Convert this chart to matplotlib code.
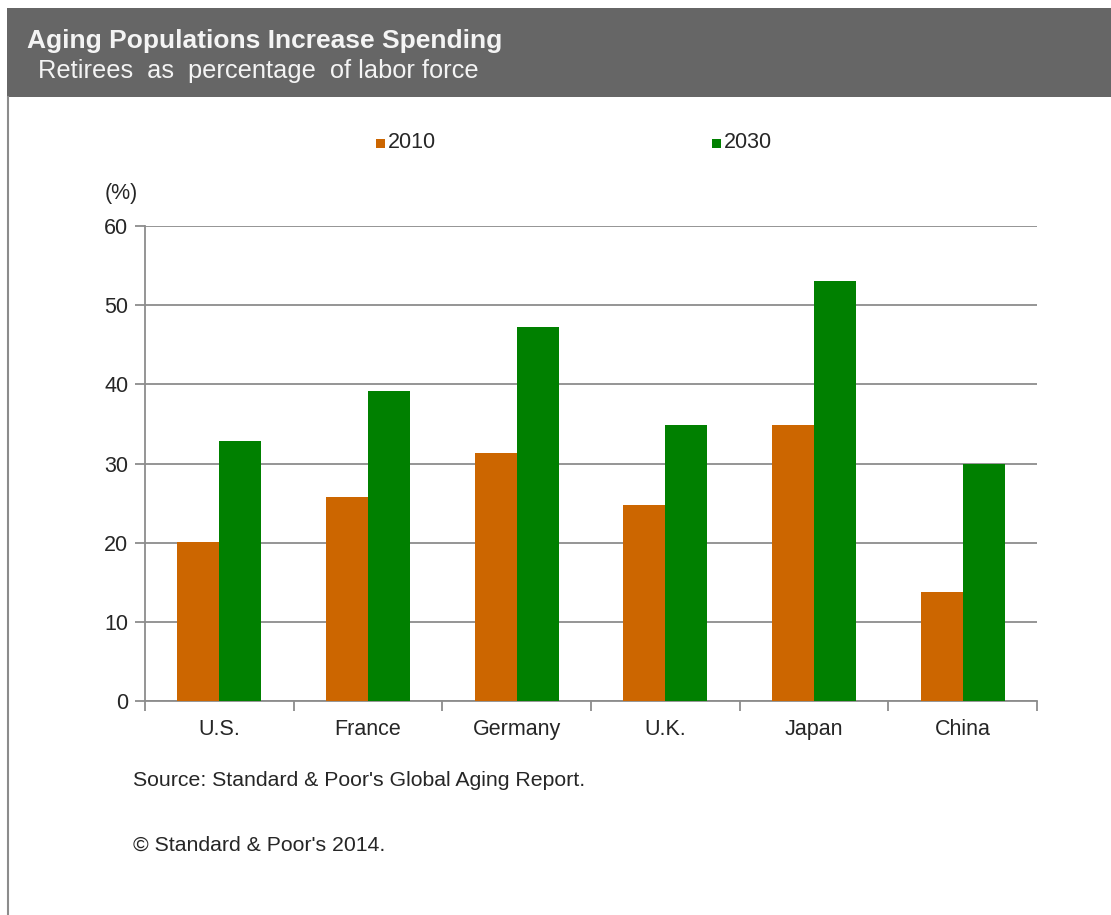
import matplotlib
matplotlib.use("Agg")
import matplotlib.pyplot as plt
from matplotlib.patches import Rectangle
from matplotlib.lines import Line2D
import numpy as np

plt.rcParams['font.family'] = ['Liberation Sans', 'DejaVu Sans']

# data
countries = ["U.S.", "France", "Germany", "U.K.", "Japan", "China"]
pct_2010 = [20.1, 25.8, 31.3, 24.8, 34.9, 13.8]
pct_2030 = [32.8, 39.2, 47.2, 34.9, 53.0, 29.9]
series_names = ["2010", "2030"]
colors = ["#cc6600", "#008000"]

W, H = 1111, 915
fig = plt.figure(figsize=(W / 100, H / 100), dpi=100)
fig.patch.set_facecolor("white")

def fx(px):
    return px / W

def fy(py):
    return 1 - py / H

txt = "#262626"

# header band and panel border
fig.patches.append(Rectangle((fx(7), fy(97)), fx(W - 7), (97 - 8) / H,
                             transform=fig.transFigure, facecolor="#666666",
                             edgecolor="none", zorder=0))
fig.lines.append(Line2D([fx(7.5), fx(7.5)], [fy(97), 0], transform=fig.transFigure,
                        color="#8c8c8c", lw=1.5))
fig.text(fx(27), fy(41), "Aging Populations Increase Spending", color="#f4f4f4",
         fontsize=19, fontweight="bold", va="center", ha="left")
fig.text(fx(38), fy(71), "Retirees  as  percentage  of labor force", color="#f4f4f4",
         fontsize=18.3, va="center", ha="left")

# axes: x 145..1037, y 226..701
ax = fig.add_axes([fx(145), fy(701), (1037 - 145) / W, (701 - 226) / H])
x = np.arange(len(countries))
bw = 0.283
ax.bar(x - bw / 2, pct_2010, bw, color=colors[0], zorder=3, label=series_names[0])
ax.bar(x + bw / 2, pct_2030, bw, color=colors[1], zorder=3, label=series_names[1])

ax.set_xlim(-0.5, len(countries) - 0.5)
ax.set_ylim(0, 60)
ax.set_yticks(range(0, 61, 10))
ax.grid(axis="y", color="#8c8c8c", lw=1.3, zorder=0)
ax.set_xticks(x)
ax.set_xticklabels(countries)
ax.set_xticks(np.arange(-0.5, len(countries)), minor=True)
ax.tick_params(axis="x", which="major", length=0, pad=13, labelsize=15.5, colors=txt)
ax.tick_params(axis="x", which="minor", length=7, width=1.3, color="#8c8c8c", direction="out")
ax.tick_params(axis="y", length=7, width=1.3, color="#8c8c8c", pad=5, labelsize=15.5,
               labelcolor=txt)
for s in ["top", "right"]:
    ax.spines[s].set_visible(False)
for s in ["left", "bottom"]:
    ax.spines[s].set_color("#8c8c8c")
    ax.spines[s].set_linewidth(1.3)

fig.text(fx(105), fy(193), "(%)", fontsize=15.5, color=txt, va="center", ha="left")

# legend
for px, name, c in [(376, series_names[0], colors[0]), (712, series_names[1], colors[1])]:
    fig.patches.append(Rectangle((fx(px), fy(148)), 9 / W, 9 / H, transform=fig.transFigure,
                                 facecolor=c, edgecolor="none"))
    fig.text(fx(px + 12), fy(143), name, fontsize=15.5, color=txt, va="center", ha="left")

fig.text(fx(133), fy(780), "Source: Standard & Poor's Global Aging Report.", fontsize=15.3,
         color=txt, va="center", ha="left")
fig.text(fx(133), fy(845), "\u00a9 Standard & Poor's 2014.", fontsize=15.3,
         color=txt, va="center", ha="left")

fig.savefig("out.png", dpi=100)
